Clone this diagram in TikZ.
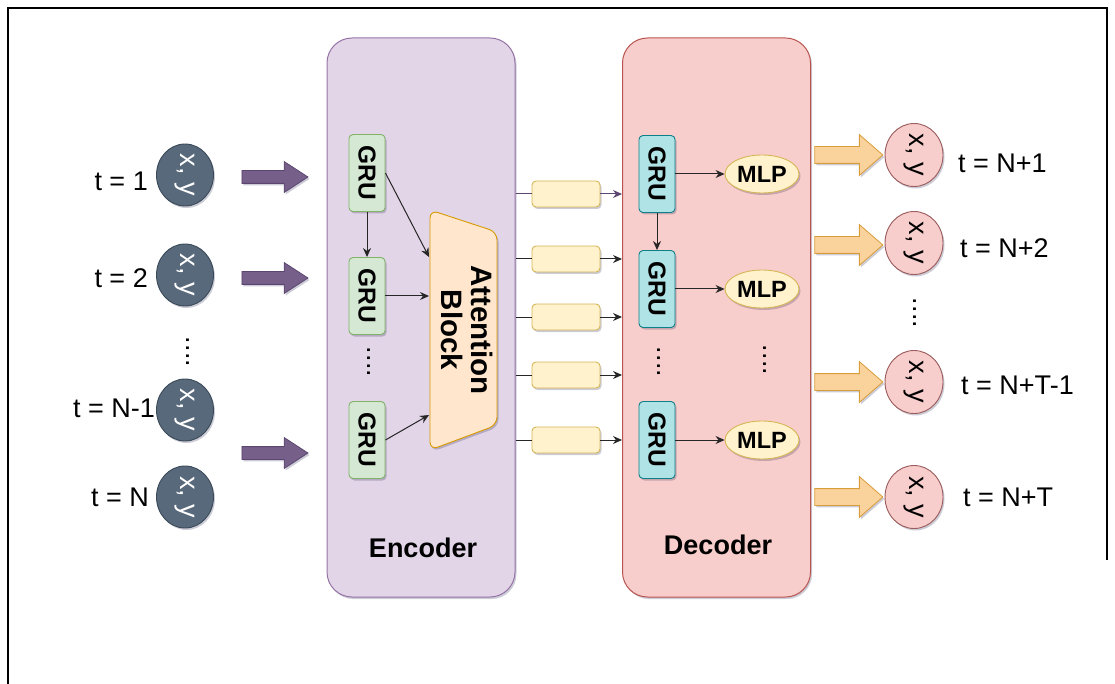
\documentclass[tikz,border=0pt]{standalone}
\usepackage{fontspec}
\setmainfont{Liberation Sans}
\usetikzlibrary{shapes.geometric,shapes.arrows,shadows,arrows.meta}

\definecolor{encfill}{HTML}{E1D5E7}
\definecolor{encdraw}{HTML}{9673A6}
\definecolor{decfill}{HTML}{F8CECC}
\definecolor{decdraw}{HTML}{B85450}
\definecolor{grnfill}{HTML}{D5E8D4}
\definecolor{grndraw}{HTML}{82B366}
\definecolor{blufill}{HTML}{B0E3E6}
\definecolor{bludraw}{HTML}{0E8088}
\definecolor{attfill}{HTML}{FFE6CC}
\definecolor{attdraw}{HTML}{D79B00}
\definecolor{yelfill}{HTML}{FFF2CC}
\definecolor{yeldraw}{HTML}{D6B656}
\definecolor{infill}{HTML}{58697B}
\definecolor{indraw}{HTML}{3B4A59}
\definecolor{purfill}{HTML}{76608A}
\definecolor{purdraw}{HTML}{5A4670}
\definecolor{orafill}{HTML}{FAD29C}
\definecolor{oradraw}{HTML}{D99C3A}
\definecolor{outfill}{HTML}{F8CECC}
\definecolor{outdraw}{HTML}{9A5C5C}

\newcommand{\lblfont}{\fontsize{27}{32}\selectfont}
\newcommand{\boldlbl}{\fontsize{27}{32}\selectfont\bfseries}
\newcommand{\grufont}{\fontsize{24.5}{28}\selectfont\bfseries}
\newcommand{\mlpfont}{\fontsize{23.5}{28}\selectfont\bfseries}
\newcommand{\attfont}{\fontsize{29.5}{33}\selectfont\bfseries}
\newcommand{\xyfont}{\fontsize{27}{31}\selectfont}
\newcommand{\dotfont}{\fontsize{27}{30}\selectfont}

\tikzset{
  myshadow/.style={drop shadow={shadow xshift=1.5pt,shadow yshift=-2pt,opacity=0.2,fill=black!80!blue}},
  bigbox/.style={rounded corners=25pt, line width=1pt, minimum width=188pt, minimum height=559pt, inner sep=0pt, myshadow},
  encbox/.style={bigbox, draw=encdraw, fill=encfill},
  decbox/.style={bigbox, draw=decdraw, fill=decfill},
  grubox/.style={rounded corners=4pt, line width=0.9pt, minimum width=36pt, minimum height=77pt, inner sep=0pt, font=\grufont, myshadow},
  egru/.style={grubox, draw=grndraw, fill=grnfill},
  dgru/.style={grubox, draw=bludraw, fill=blufill},
  mlpnode/.style={ellipse, draw=yeldraw, fill=yelfill, line width=0.9pt, minimum width=74pt, minimum height=38pt, inner sep=0pt, font=\mlpfont, myshadow},
  ybox/.style={rounded corners=4pt, draw=yeldraw, fill=yelfill, line width=0.9pt, minimum width=68pt, minimum height=26pt, inner sep=0pt, myshadow},
  incirc/.style={ellipse, draw=indraw, fill=infill, line width=0.9pt, minimum width=57pt, minimum height=62pt, inner sep=0pt, text=white, font=\xyfont, myshadow},
  outcirc/.style={ellipse, draw=outdraw, fill=outfill, line width=0.9pt, minimum width=58pt, minimum height=63pt, inner sep=0pt, text=black, font=\xyfont, myshadow},
  purarrow/.style={single arrow, draw=purdraw, fill=purfill, line width=0.8pt, inner xsep=0pt, inner ysep=6pt, single arrow head extend=9pt, single arrow tip angle=66, minimum height=66pt, myshadow},
  oraarrow/.style={single arrow, draw=oradraw, fill=orafill, line width=0.8pt, inner xsep=0pt, inner ysep=8pt, single arrow head extend=12pt, single arrow tip angle=82, minimum height=68pt, myshadow},
  conn/.style={line width=1pt, draw=black!85},
  arr/.style={conn, -{Stealth[length=9pt,width=8pt]}},
  lbl/.style={font=\lblfont, inner sep=0pt},
  dotsnode/.style={font=\dotfont, inner sep=0pt},
}

\begin{document}
\begin{tikzpicture}[x=1pt,y=-1pt]
\useasboundingbox (0,0) rectangle (1115,684);
% frame
\draw[line width=1.6pt] (8,684) -- (8,8) -- (1107,8) -- (1107,560);

% encoder and decoder containers
\node[encbox] (enc) at (421,317.5) {};
\node[decbox] (dec) at (716.5,317.5) {};
\node[font=\boldlbl] (enclab) at (423,548) {Encoder};
\node[font=\boldlbl] (declab) at (718,545) {Decoder};

% inputs
\node[incirc] (in1) at (185,175) {\rotatebox{-90}{x, y}};
\node[incirc] (in2) at (185,275) {\rotatebox{-90}{x, y}};
\node[incirc] (in3) at (185,410) {\rotatebox{-90}{x, y}};
\node[incirc] (in4) at (185,497) {\rotatebox{-90}{x, y}};
\node[lbl, anchor=east] (t1) at (148,181) {t = 1};
\node[lbl, anchor=east] (t2) at (148,278) {t = 2};
\node[lbl, anchor=east] (t3) at (155,408) {t = N-1};
\node[lbl, anchor=east] (t4) at (149,497) {t = N};
\node[dotsnode] (indots) at (188,352) {\rotatebox{-90}{....}};

\node[purarrow] (pa1) at (270,177) {};
\node[purarrow] (pa2) at (270,278) {};
\node[purarrow] (pa3) at (270,453) {};

% encoder GRUs
\node[egru] (eg1) at (367,173) {\rotatebox{-90}{GRU}};
\node[egru] (eg2) at (367,296) {\rotatebox{-90}{GRU}};
\node[egru] (eg3) at (367,440) {\rotatebox{-90}{GRU}};
\node[dotsnode] (edots) at (369,362) {\rotatebox{-90}{....}};

% attention block
\path[draw=attdraw, fill=attfill, line width=0.9pt, rounded corners=8pt, myshadow]
  (430,210) -- (497,232) -- (497,425) -- (430,450) -- cycle;
\node[font=\attfont, inner sep=0pt] (att) at (463,330)
  {\rotatebox{-90}{\begin{tabular}{@{}c@{}}Attention\\[-3pt]Block\end{tabular}}};
\coordinate (a1) at (429,257);
\coordinate (a2) at (429,296);
\coordinate (a3) at (429,415);

\draw[arr] (eg1) -- (eg2);
\draw[arr] (eg1.east) -- (a1);
\draw[arr] (eg2.east) -- (a2);
\draw[arr] (eg3.east) -- (a3);

% yellow boxes between encoder and decoder
\foreach \i/\yy in {1/194,2/259,3/317,4/375,5/440}{
  \node[ybox] (yb\i) at (566,\yy) {};
}
\draw[conn, draw=purdraw] (enc.east |- yb1) -- (yb1.west);
\draw[arr, draw=purdraw] (yb1.east) -- (dec.west |- yb1);
\foreach \i in {2,...,5}{
  \draw[conn] (enc.east |- yb\i) -- (yb\i.west);
  \draw[arr] (yb\i.east) -- (dec.west |- yb\i);
}

% decoder GRUs and MLPs
\node[dgru] (dg1) at (657,174) {\rotatebox{-90}{GRU}};
\node[dgru] (dg2) at (657,289) {\rotatebox{-90}{GRU}};
\node[dgru] (dg3) at (657,440) {\rotatebox{-90}{GRU}};
\node[mlpnode] (m1) at (762,174) {MLP};
\node[mlpnode] (m2) at (762,289) {MLP};
\node[mlpnode] (m3) at (762,440) {MLP};
\node[dotsnode] (ddots1) at (659,362) {\rotatebox{-90}{....}};
\node[dotsnode] (ddots2) at (765,360) {\rotatebox{-90}{....}};
\draw[arr] (dg1) -- (dg2);
\draw[arr] (dg1.east) -- (m1.west);
\draw[arr] (dg2.east) -- (m2.west);
\draw[arr] (dg3.east) -- (m3.west);

% outputs
\node[oraarrow] (oa1) at (844,155) {};
\node[oraarrow] (oa2) at (844,245) {};
\node[oraarrow] (oa3) at (844,382) {};
\node[oraarrow] (oa4) at (844,497) {};
\node[outcirc] (o1) at (914,155) {\rotatebox{-90}{x, y}};
\node[outcirc] (o2) at (914,243) {\rotatebox{-90}{x, y}};
\node[outcirc] (o3) at (914,382) {\rotatebox{-90}{x, y}};
\node[outcirc] (o4) at (914,497) {\rotatebox{-90}{x, y}};
\node[dotsnode] (odots) at (915,313) {\rotatebox{-90}{....}};
\node[lbl, anchor=west] (n1) at (958,163) {t = N+1};
\node[lbl, anchor=west] (n2) at (960,248) {t = N+2};
\node[lbl, anchor=west] (n3) at (961,385) {t = N+T-1};
\node[lbl, anchor=west] (n4) at (963,497) {t = N+T};
\end{tikzpicture}
\end{document}
